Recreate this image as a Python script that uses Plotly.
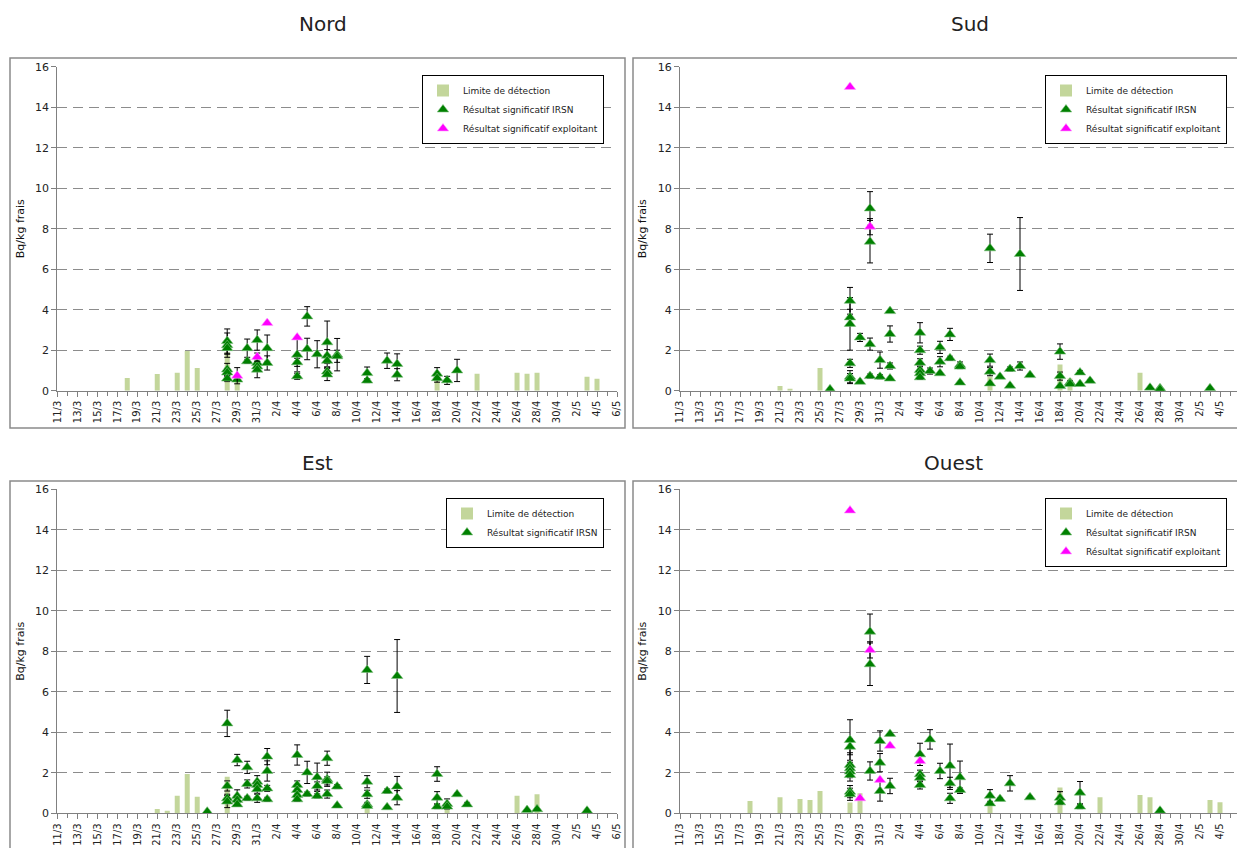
import plotly.graph_objects as go

YEAR = 2011

def iso(s):
    day, month = s.split("/")
    return f"{YEAR}-{int(month):02d}-{int(day):02d}"

# ---------------- Nord ----------------
nord_ld_dates = ["18/3", "21/3", "23/3", "24/3", "25/3", "28/3", "29/3", "18/4", "22/4", "26/4", "27/4", "28/4", "3/5", "4/5"]
nord_ld_vals = [0.63, 0.82, 0.89, 1.96, 1.12, 1.9, 0.8, 0.5, 0.84, 0.89, 0.84, 0.89, 0.69, 0.59]
nord_irsn_dates = ["28/3", "28/3", "28/3", "28/3", "28/3", "28/3", "29/3", "30/3", "30/3",
                   "31/3", "31/3", "31/3", "31/3", "1/4", "1/4", "4/4", "4/4", "4/4", "5/4", "5/4",
                   "6/4", "7/4", "7/4", "7/4", "7/4", "7/4", "8/4", "8/4", "11/4", "11/4", "13/4",
                   "14/4", "14/4", "18/4", "18/4", "19/4", "20/4"]
nord_irsn_vals = [2.45, 2.25, 2.1, 1.05, 0.9, 0.6, 0.55, 2.1, 1.45,
                  2.5, 1.37, 1.2, 1.04, 2.1, 1.37, 1.78, 1.4, 0.71, 3.67, 2.06,
                  1.8, 2.39, 1.73, 1.48, 0.95, 0.8, 1.78, 1.7, 0.87, 0.5, 1.48,
                  1.32, 0.79, 0.84, 0.62, 0.51, 1.0]
nord_irsn_err = [0.6, 0.6, 0.3, 0.3, 0.2, 0.15, 0.0, 0.45, 0.1,
                 0.5, 0.2, 0.2, 0.4, 0.65, 0.35, 0.85, 0.2, 0.15, 0.48, 0.53,
                 0.67, 1.05, 0.3, 0.3, 0.2, 0.3, 0.8, 0.3, 0.3, 0.1, 0.38,
                 0.5, 0.3, 0.3, 0.2, 0.2, 0.55]
nord_expl_dates = ["29/3", "31/3", "1/4", "4/4"]
nord_expl_vals = [0.74, 1.66, 3.34, 2.63]
nord_expl_err = [0.4, 0.2, 0.0, 0.0]

# ---------------- Sud ----------------
sud_ld_dates = ["21/3", "22/3", "25/3", "11/4", "18/4", "19/4", "26/4"]
sud_ld_vals = [0.23, 0.08, 1.12, 0.7, 1.3, 0.6, 0.89]
sud_irsn_dates = ["26/3", "28/3", "28/3", "28/3", "28/3", "28/3", "28/3", "29/3", "29/3",
                  "30/3", "30/3", "30/3", "30/3", "31/3", "31/3", "1/4", "1/4", "1/4", "1/4",
                  "4/4", "4/4", "4/4", "4/4", "4/4", "4/4", "5/4", "6/4", "6/4", "6/4", "7/4", "7/4",
                  "8/4", "8/4", "8/4", "11/4", "11/4", "11/4", "11/4", "12/4", "13/4", "13/4",
                  "14/4", "14/4", "15/4", "18/4", "18/4", "18/4", "19/4", "19/4", "20/4", "20/4",
                  "21/4", "27/4", "28/4", "28/4", "3/5"]
sud_irsn_vals = [0.07, 4.44, 3.62, 3.3, 1.35, 0.69, 0.6, 2.63, 0.44,
                 9.0, 7.36, 2.3, 0.72, 1.51, 0.69, 3.93, 2.8, 1.22, 0.6,
                 2.86, 2.0, 1.38, 1.02, 0.86, 0.66, 0.97, 2.14, 1.43, 0.86, 2.78, 1.6,
                 1.27, 1.19, 0.4, 7.03, 1.51, 0.94, 0.36, 0.69, 1.07, 0.25,
                 6.75, 1.22, 0.77, 1.93, 0.72, 0.23, 0.4, 0.33, 0.9, 0.33,
                 0.49, 0.15, 0.12, 0.07, 0.12]
sud_irsn_err = [0.0, 0.66, 0.4, 1.3, 0.2, 0.3, 0.25, 0.2, 0.0,
                0.83, 1.05, 0.3, 0.1, 0.4, 0.1, 0.0, 0.4, 0.15, 0.0,
                0.5, 0.2, 0.2, 0.2, 0.2, 0.1, 0.15, 0.3, 0.25, 0.0, 0.3, 0.1,
                0.15, 0.1, 0.0, 0.7, 0.3, 0.2, 0.0, 0.0, 0.1, 0.0,
                1.8, 0.2, 0.05, 0.38, 0.2, 0.0, 0.1, 0.0, 0.1, 0.0,
                0.05, 0.0, 0.0, 0.0, 0.0]
sud_expl_dates = ["28/3", "30/3"]
sud_expl_vals = [15.0, 8.1]
sud_expl_err = [0.0, 0.4]

# ---------------- Est ----------------
est_ld_dates = ["21/3", "22/3", "23/3", "24/3", "25/3", "28/3", "11/4", "19/4", "26/4", "28/4"]
est_ld_vals = [0.21, 0.12, 0.87, 1.94, 0.82, 1.8, 0.3, 0.4, 0.87, 0.94]
est_irsn_dates = ["26/3", "28/3", "28/3", "28/3", "28/3", "29/3", "29/3", "29/3", "29/3",
                  "30/3", "30/3", "30/3", "31/3", "31/3", "31/3", "31/3", "1/4", "1/4", "1/4", "1/4",
                  "4/4", "4/4", "4/4", "4/4", "4/4", "5/4", "5/4", "6/4", "6/4", "6/4",
                  "7/4", "7/4", "7/4", "7/4", "8/4", "8/4", "11/4", "11/4", "11/4", "11/4", "11/4",
                  "13/4", "13/4", "14/4", "14/4", "14/4", "18/4", "18/4", "18/4", "19/4", "19/4",
                  "20/4", "21/4", "27/4", "28/4", "3/5"]
est_irsn_vals = [0.08, 4.44, 1.35, 0.74, 0.58, 2.63, 0.86, 0.66, 0.44,
                 2.27, 1.45, 0.74, 1.56, 1.4, 1.19, 0.74, 2.8, 2.09, 1.23, 0.69,
                 2.88, 1.4, 1.15, 0.9, 0.69, 2.02, 0.95, 1.78, 1.35, 0.86,
                 2.72, 1.68, 1.6, 0.95, 1.32, 0.38, 7.08, 1.56, 0.94, 0.44, 0.36,
                 1.1, 0.3, 6.78, 1.32, 0.77, 1.94, 0.77, 0.33, 0.46, 0.33,
                 0.94, 0.44, 0.16, 0.2, 0.13]
est_irsn_err = [0.0, 0.65, 0.25, 0.2, 0.3, 0.28, 0.3, 0.1, 0.1,
                0.3, 0.2, 0.1, 0.3, 0.2, 0.2, 0.2, 0.4, 0.5, 0.15, 0.1,
                0.5, 0.2, 0.2, 0.2, 0.1, 0.55, 0.1, 0.7, 0.2, 0.1,
                0.35, 0.35, 0.2, 0.2, 0.1, 0.0, 0.67, 0.3, 0.2, 0.1, 0.0,
                0.1, 0.0, 1.8, 0.5, 0.35, 0.36, 0.3, 0.1, 0.25, 0.0,
                0.05, 0.1, 0.0, 0.0, 0.0]

# ---------------- Ouest ----------------
ouest_ld_dates = ["18/3", "21/3", "23/3", "24/3", "25/3", "28/3", "29/3", "11/4", "18/4", "22/4", "26/4", "27/4", "3/5", "4/5"]
ouest_ld_vals = [0.61, 0.79, 0.71, 0.66, 1.1, 0.53, 0.99, 0.4, 1.28, 0.79, 0.9, 0.79, 0.66, 0.54]
ouest_irsn_dates = ["28/3", "28/3", "28/3", "28/3", "28/3", "28/3", "28/3", "28/3",
                    "30/3", "30/3", "30/3", "31/3", "31/3", "31/3", "1/4", "1/4",
                    "4/4", "4/4", "4/4", "4/4", "5/4", "6/4", "7/4", "7/4", "7/4", "8/4", "8/4",
                    "11/4", "11/4", "12/4", "13/4", "15/4", "18/4", "18/4", "20/4", "20/4", "28/4"]
ouest_irsn_vals = [3.62, 3.29, 2.39, 2.22, 2.06, 1.89, 1.07, 0.94,
                   8.97, 7.36, 2.09, 3.57, 2.5, 1.1, 3.92, 1.35,
                   2.91, 1.93, 1.76, 1.4, 3.65, 2.09, 2.35, 1.48, 0.74, 1.78, 1.15,
                   0.87, 0.49, 0.71, 1.48, 0.79, 0.77, 0.54, 1.02, 0.33, 0.13]
ouest_irsn_err = [1.0, 0.4, 0.6, 0.3, 0.3, 0.3, 0.3, 0.3,
                  0.87, 1.05, 0.45, 0.5, 0.45, 0.5, 0.0, 0.38,
                  0.55, 0.2, 0.2, 0.2, 0.48, 0.38, 1.07, 0.3, 0.25, 0.8, 0.1,
                  0.3, 0.1, 0.05, 0.38, 0.05, 0.3, 0.1, 0.55, 0.1, 0.0]
ouest_expl_dates = ["28/3", "29/3", "30/3", "31/3", "1/4", "4/4"]
ouest_expl_vals = [14.95, 0.74, 8.07, 1.65, 3.33, 2.58]
ouest_expl_err = [0.0, 0.0, 0.4, 0.0, 0.0, 0.0]

panel_titles = ["Nord", "Sud", "Est", "Ouest"]
legend_names = ["Limite de détection", "Résultat significatif IRSN", "Résultat significatif exploitant"]
y_title = "Bq/kg frais"

BAR_COLOR = "#c3d69b"
IRSN_COLOR = "#008000"
EXPL_COLOR = "#ff00ff"
FONT = "DejaVu Sans"
DAY_MS = 86400000

W, H = 1237, 848

panels = [
    dict(ld=(nord_ld_dates, nord_ld_vals), irsn=(nord_irsn_dates, nord_irsn_vals, nord_irsn_err),
         expl=(nord_expl_dates, nord_expl_vals, nord_expl_err)),
    dict(ld=(sud_ld_dates, sud_ld_vals), irsn=(sud_irsn_dates, sud_irsn_vals, sud_irsn_err),
         expl=(sud_expl_dates, sud_expl_vals, sud_expl_err)),
    dict(ld=(est_ld_dates, est_ld_vals), irsn=(est_irsn_dates, est_irsn_vals, est_irsn_err),
         expl=None),
    dict(ld=(ouest_ld_dates, ouest_ld_vals), irsn=(ouest_irsn_dates, ouest_irsn_vals, ouest_irsn_err),
         expl=(ouest_expl_dates, ouest_expl_vals, ouest_expl_err)),
]

# layout geometry in pixels
x_px = [(57.3, 617.0), (680.0, 1237.0), (57.3, 617.0), (680.0, 1237.0)]
y_px = [(390.7, 66.7), (390.7, 66.7), (813.3, 489.3), (813.3, 489.3)]
x_end = ["2011-05-06", "2011-05-05 16:48", "2011-05-06", "2011-05-05 16:48"]
boxes_px = [(10, 58, 625, 428), (633, 58, 1245, 428), (10, 481, 625, 860), (633, 481, 1245, 860)]
title_px = [(323, 24), (970, 24), (318, 463), (953, 463)]
legend_px = [(604, 75), (1227, 75), (604, 498), (1227, 498)]

fig = go.Figure()
layout_axes = {}
shapes = []
annotations = []
legends = {}

for i, p in enumerate(panels):
    n = i + 1
    xa = "x" if n == 1 else f"x{n}"
    ya = "y" if n == 1 else f"y{n}"
    lg = "legend" if n == 1 else f"legend{n}"

    d, v = p["ld"]
    fig.add_trace(go.Bar(x=[iso(s) for s in d], y=v, width=[DAY_MS * 0.5] * len(d),
                         marker=dict(color=BAR_COLOR, line=dict(width=0)),
                         name=legend_names[0], xaxis=xa, yaxis=ya, legend=lg))
    d, v, e = p["irsn"]
    fig.add_trace(go.Scatter(x=[iso(s) for s in d], y=v, mode="markers",
                             marker=dict(symbol="triangle-up", size=10, color=IRSN_COLOR,
                                         line=dict(width=0.6, color="#7fbf7f")),
                             error_y=dict(type="data", array=e, color="black", thickness=1, width=3),
                             name=legend_names[1], xaxis=xa, yaxis=ya, legend=lg))
    if p["expl"] is not None:
        d, v, e = p["expl"]
        fig.add_trace(go.Scatter(x=[iso(s) for s in d], y=v, mode="markers",
                                 marker=dict(symbol="triangle-up", size=10, color=EXPL_COLOR,
                                             line=dict(width=0.6, color="#ff9fff")),
                                 error_y=dict(type="data", array=e, color="black", thickness=1, width=3),
                                 name=legend_names[2], xaxis=xa, yaxis=ya, legend=lg))

    x0, x1 = x_px[i]
    yb, yt = y_px[i]
    layout_axes["xaxis" if n == 1 else f"xaxis{n}"] = dict(
        type="date", domain=[x0 / W, x1 / W], anchor=ya,
        range=["2011-03-11", x_end[i]],
        tick0="2011-03-11", dtick=2 * DAY_MS, tickformat="%-d/%-m",
        tickangle=-90, ticks="outside", ticklen=5, tickcolor="#808080",
        minor=dict(dtick=DAY_MS, ticks="outside", ticklen=4, tickcolor="#808080", showgrid=False),
        showline=True, linecolor="#808080", linewidth=1, showgrid=False, zeroline=False,
        tickfont=dict(family=FONT, size=10, color="#222"), automargin=False, fixedrange=True,
    )
    layout_axes["yaxis" if n == 1 else f"yaxis{n}"] = dict(
        domain=[1 - yb / H, 1 - yt / H], anchor=xa, range=[0, 16], dtick=2,
        ticks="outside", ticklen=5, tickcolor="#808080",
        showline=True, linecolor="#808080", linewidth=1,
        showgrid=True, gridcolor="#8c8c8c", griddash="10px,6px", gridwidth=1, zeroline=False,
        tickfont=dict(family=FONT, size=11, color="#222"),
        title=dict(text=y_title, font=dict(family=FONT, size=11, color="#111"), standoff=8),
        automargin=False, fixedrange=True,
    )
    bx0, by0, bx1, by1 = boxes_px[i]
    shapes.append(dict(type="rect", xref="paper", yref="paper",
                       x0=bx0 / W, x1=bx1 / W, y0=1 - by1 / H, y1=1 - by0 / H,
                       line=dict(color="#8a8a8a", width=1.5), fillcolor="rgba(0,0,0,0)", layer="below"))
    tx, ty = title_px[i]
    annotations.append(dict(text=panel_titles[i], xref="paper", yref="paper", x=tx / W, y=1 - ty / H,
                            xanchor="center", yanchor="middle", showarrow=False,
                            font=dict(family=FONT, size=20, color="#222")))
    lx, ly = legend_px[i]
    legends[lg] = dict(x=lx / W, y=1 - ly / H, xanchor="right", yanchor="top",
                       bgcolor="white", bordercolor="black", borderwidth=1,
                       font=dict(family=FONT, size=9, color="#222"), tracegroupgap=0,
                       itemwidth=30, traceorder="normal")

fig.update_layout(
    width=W, height=H, margin=dict(l=0, r=0, t=0, b=0),
    paper_bgcolor="white", plot_bgcolor="white",
    barmode="overlay", showlegend=True,
    shapes=shapes, annotations=annotations,
    **layout_axes, **legends,
)

fig.write_html("out.html")
